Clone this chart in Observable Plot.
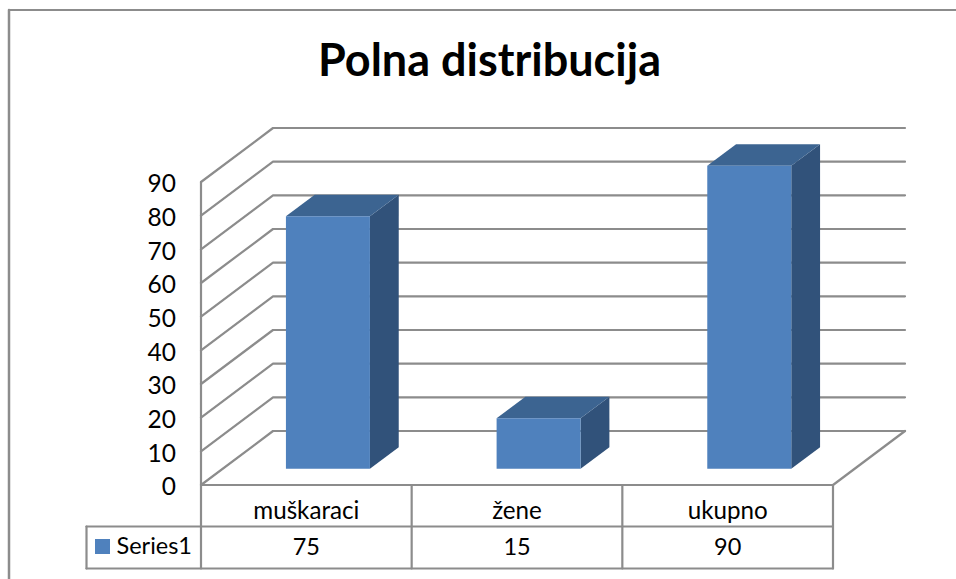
<!DOCTYPE html>
<html>
<head>
<meta charset="utf-8">
<script src="https://cdn.jsdelivr.net/npm/d3@7"></script>
<script src="https://cdn.jsdelivr.net/npm/@observablehq/plot@0.6"></script>
<style>
html,body{margin:0;padding:0;background:#fff;overflow:hidden}
#chart{position:relative;width:956px;height:579px}
#chart svg{position:absolute;left:0;top:0;background:transparent;font-family:Lato,sans-serif}
</style>
</head>
<body>
<div id="chart"></div>
<script>
const categories = ["muškaraci", "žene", "ukupno"];
const values = [75, 15, 90];
const seriesName = "Series1";
const title = "Polna distribucija";
const yTicks = [0, 10, 20, 30, 40, 50, 60, 70, 80, 90];

const W = 956, H = 579;
const L = 200.5, R = 832.5, B = 484.5, T = 181.5;
const ppu = (B - T) / 90;
const bandW = (R - L) / categories.length;
const depthX = 72 / bandW, depthY = 54 / ppu;   // full floor depth in data units
const barW = 84 / bandW;
const d0 = 0.3, d1 = 0.7;                        // bar depth span on the floor
const gridColor = "#8c8c8c", ink = "#000";
const front = "#4f81bd", topFace = "#3c6491", side = "#31527a";

const P = (c, v, d = 0) => ({x: c + d * depthX, y: v + d * depthY});
const px = v => (v - L) / bandW;
const py = v => (B - v) / ppu;

const poly = (pts, opt) => Plot.line(pts, {x: "x", y: "y", ...opt});
const rowY1 = py(526), rowY2 = py(568);
const legendX = px(86);

const marks = [];
// chart area border
marks.push(poly([{x: px(8.5), y: py(590)}, {x: px(8.5), y: py(9.5)}], {stroke: gridColor, strokeWidth: 2.5}));
marks.push(poly([{x: px(8.5), y: py(9.5)}, {x: px(960), y: py(9.5)}], {stroke: gridColor, strokeWidth: 2}));
// gridlines on side and back walls
for (const v of yTicks) {
  marks.push(poly([P(0, v), P(0, v, 1), P(categories.length, v, 1)], {stroke: gridColor, strokeWidth: 2.2}));
}
// left wall edge, floor
marks.push(poly([P(0, 0), P(0, 90)], {stroke: gridColor, strokeWidth: 2.2}));
marks.push(poly([P(0, 0), P(3, 0), P(3, 0, 1)], {stroke: gridColor, strokeWidth: 2.2}));
// bars
values.forEach((v, i) => {
  const a = i + 0.5 - barW / 2, b = i + 0.5 + barW / 2;
  marks.push(poly([P(b, 0, d0), P(b, 0, d1), P(b, v, d1), P(b, v, d0)], {fill: side, stroke: "none"}));
  marks.push(poly([P(a, v, d0), P(b, v, d0), P(b, v, d1), P(a, v, d1)], {fill: topFace, stroke: "none"}));
  marks.push(poly([P(a, 0, d0), P(b, 0, d0), P(b, v, d0), P(a, v, d0)], {fill: front, stroke: "none"}));
});
// data table
for (const yy of [rowY1, rowY2]) {
  marks.push(poly([{x: legendX, y: yy}, {x: 3, y: yy}], {stroke: gridColor, strokeWidth: 2.2}));
}
marks.push(poly([{x: legendX, y: rowY1}, {x: legendX, y: rowY2}], {stroke: gridColor, strokeWidth: 2.2}));
for (let i = 0; i <= categories.length; i++) {
  marks.push(poly([{x: i, y: 0}, {x: i, y: rowY2}], {stroke: gridColor, strokeWidth: 2.2}));
}
marks.push(Plot.text(categories, {x: (d, i) => i + 0.5, y: py(510.5), text: d => d, fontSize: 24.2, fill: ink}));
marks.push(Plot.text(values, {x: (d, i) => i + 0.5, y: py(547), text: d => String(d), fontSize: 23.5, fill: ink}));
// legend key
marks.push(Plot.rect([seriesName], {x1: px(95), x2: px(110), y1: py(554), y2: py(539), fill: front}));
marks.push(Plot.text([seriesName], {x: px(116), y: py(546), text: d => d, textAnchor: "start", fontSize: 23.5, fill: ink}));
// y axis
marks.push(Plot.axisY(yTicks, {anchor: "left", tickSize: 0, tickPadding: 25, fontSize: 24.5, label: null, color: ink, dy: 2.5}));
// title
marks.push(Plot.text([title], {x: px(489), y: py(61), text: d => d, fontSize: 45, fontWeight: 700, fill: ink}));

const plot = Plot.plot({
  width: W, height: H,
  marginLeft: L, marginRight: W - R, marginTop: T, marginBottom: H - B,
  x: {type: "linear", domain: [0, categories.length], axis: null},
  y: {domain: [0, 90], axis: null},
  style: {background: "transparent", color: ink, overflow: "visible"},
  marks
});
document.getElementById("chart").appendChild(plot);
</script>
</body>
</html>
